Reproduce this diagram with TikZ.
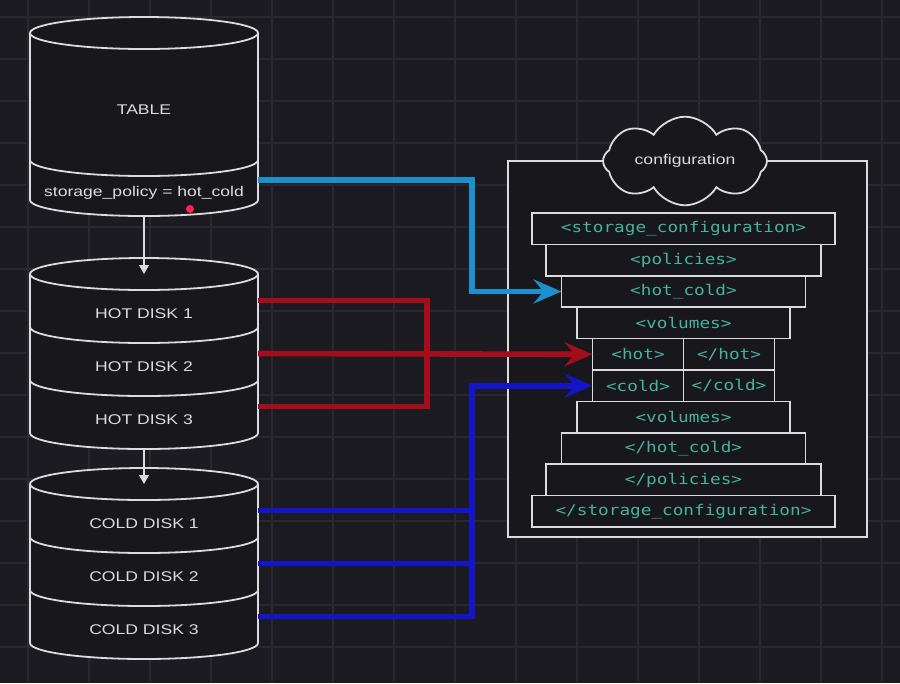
\documentclass[tikz,border=0pt]{standalone}
\usepackage{fontspec}
\setmainfont{Liberation Sans}[FakeStretch=1.25]
\newfontfamily\xmlfont{DejaVu Sans Mono}[FakeStretch=1.2]
\usetikzlibrary{positioning,shapes.symbols,arrows.meta}
\definecolor{fondo}{HTML}{1C1B21}
\definecolor{rejilla}{HTML}{29282F}
\definecolor{relleno}{HTML}{18171C}
\definecolor{linea}{HTML}{DCDCDC}
\definecolor{xmltexto}{HTML}{44B3A1}
\definecolor{cian}{HTML}{1A90CC}
\definecolor{rojo}{HTML}{A30D1C}
\definecolor{azul}{HTML}{1515C8}
\definecolor{puntero}{HTML}{FF2050}
\tikzstyle{Rejilla}=[draw=rejilla, line width=0.3mm]
\tikzstyle{Disco}=[rectangle, inner sep=0pt, outer sep=0pt, minimum width=57mm, minimum height=13.25mm]
\tikzstyle{DiscoTexto}=[text=linea, yshift=-3.2mm, font=\fontsize{10}{12}\selectfont]
\tikzstyle{Borde}=[draw=linea, line width=0.45mm]
\tikzstyle{XmlTag}=[rectangle, draw=linea, fill=relleno, line width=0.4mm, inner sep=0pt, outer sep=0pt, minimum height=7.85mm, text=xmltexto, font=\xmlfont\fontsize{10.5}{12}\selectfont]
\tikzstyle{CajaConfig}=[rectangle, draw=linea, fill=relleno, line width=0.4mm, outer sep=0pt, minimum width=89.75mm, minimum height=94mm]
\tikzstyle{Nube}=[cloud, cloud puffs=8, cloud puff arc=120, aspect=2.3, draw=linea, fill=relleno, line width=0.45mm, minimum width=41mm, minimum height=18mm, inner sep=0pt, text=linea, font=\fontsize{10}{12}\selectfont]
\tikzstyle{LineaRoja}=[draw=rojo, line width=1.4mm]
\tikzstyle{LineaAzul}=[draw=azul, line width=1.4mm]
\tikzstyle{FlechaCian}=[->, draw=cian, line width=1.4mm]
\tikzstyle{FlechaRoja}=[->, LineaRoja]
\tikzstyle{FlechaAzul}=[->, LineaAzul]
\tikzstyle{Bajada}=[-{Triangle[length=2.2mm, width=2.4mm]}, draw=linea, fill=linea, line width=0.35mm]

\begin{document}
\begin{tikzpicture}[x=0.25mm, y=-0.25mm, >={Stealth[length=7mm, width=6mm, inset=2.5mm]}]
			%Fondo
			\fill[fondo] (0,0) rectangle (900,683);
			\useasboundingbox (0,0) rectangle (900,683);
			\foreach \x in {28,89,...,882} \draw[Rejilla] (\x,0) -- (\x,683);
			\foreach \y in {17,59,...,683} \draw[Rejilla] (0,\y) -- (900,\y);

			%Secciones
			\node[Disco, minimum height=31.75mm]	(tbltop)		at (144,96.5)				{};
			\node[Disco, minimum height=10mm]		(tblpolicy)	[below=0cm of tbltop]		{};

			\node[Disco]		(hot1)		at (144,300.5)				{};
			\node[Disco]		(hot2)		[below=0cm of hot1]		{};
			\node[Disco]		(hot3)		[below=0cm of hot2]		{};

			\node[Disco]		(cold1)		at (144,510.5)				{};
			\node[Disco]		(cold2)		[below=0cm of cold1]		{};
			\node[Disco]		(cold3)		[below=0cm of cold2]		{};

			%Cilindros
			\foreach \a/\b in {tbltop/tblpolicy, hot1/hot3, cold1/cold3}{
				\fill[relleno] (\a.north west) -- (\b.south west) arc[start angle=180, end angle=360, x radius=28.5mm, y radius=4mm]
					-- (\a.north east) arc[start angle=0, end angle=180, x radius=28.5mm, y radius=4mm] -- cycle;
				\draw[Borde] (\a.north) ellipse [x radius=28.5mm, y radius=4mm];
				\draw[Borde] (\a.north west) -- (\b.south west) arc[start angle=180, end angle=360, x radius=28.5mm, y radius=4mm] -- (\a.north east);
			}
			\foreach \d in {tbltop, hot1, hot2, cold1, cold2}
				\draw[Borde] (\d.south west) arc[start angle=180, end angle=360, x radius=28.5mm, y radius=4mm];

			%Textos
			\node[DiscoTexto]	(tbltxt)		at (tbltop)		{TABLE};
			\node[DiscoTexto]	(policytxt)	at (tblpolicy)	{storage\_policy = hot\_cold};
			\node[DiscoTexto]	(hot1txt)	at (hot1)		{HOT DISK 1};
			\node[DiscoTexto]	(hot2txt)	at (hot2)		{HOT DISK 2};
			\node[DiscoTexto]	(hot3txt)	at (hot3)		{HOT DISK 3};
			\node[DiscoTexto]	(cold1txt)	at (cold1)		{COLD DISK 1};
			\node[DiscoTexto]	(cold2txt)	at (cold2)		{COLD DISK 2};
			\node[DiscoTexto]	(cold3txt)	at (cold3)		{COLD DISK 3};
			\fill[puntero] (190,209) circle (1mm);

			%Bajadas
			\draw[Bajada] ([yshift=-4mm]tblpolicy.south) -- (hot1.north);
			\draw[Bajada] ([yshift=-4mm]hot3.south) -- (cold1.north);

			%Config
			\node[CajaConfig]	(cfg)		at (687.5,349)	{};
			\node[XmlTag, minimum width=75.75mm]	(storopen)	at (683.5,228.7)				{<storage\_configuration>};
			\node[XmlTag, minimum width=68.75mm]	(polopen)	[below=0cm of storopen]		{<policies>};
			\node[XmlTag, minimum width=61mm]		(hcopen)		[below=0cm of polopen]		{<hot\_cold>};
			\node[XmlTag, minimum width=53.25mm]	(volopen)	[below=0cm of hcopen]		{<volumes>};
			\node[XmlTag, minimum width=22.75mm, anchor=north east]	(hotopen)	at (volopen.south)	{<hot>};
			\node[XmlTag, minimum width=22.75mm]	(hotclose)	[right=0cm of hotopen]		{</hot>};
			\node[XmlTag, minimum width=22.75mm]	(coldopen)	[below=0cm of hotopen]		{<cold>};
			\node[XmlTag, minimum width=22.75mm]	(coldclose)	[below=0cm of hotclose]		{</cold>};
			\node[XmlTag, minimum width=53.25mm, anchor=north]	(volclose)	at (coldopen.south east)	{<volumes>};
			\node[XmlTag, minimum width=61mm]		(hcclose)	[below=0cm of volclose]		{</hot\_cold>};
			\node[XmlTag, minimum width=68.75mm]	(polclose)	[below=0cm of hcclose]		{</policies>};
			\node[XmlTag, minimum width=75.75mm]	(storclose)	[below=0cm of polclose]		{</storage\_configuration>};

			%Lineas
			\draw[FlechaCian] (tblpolicy.east) -| ([xshift=-22.4mm]hcopen.west) -- (hcopen.west);

			\draw[LineaRoja] (hot1.east) -- ++(42.25mm,0) |- (hot3.east);
			\draw[FlechaRoja] (hot2.east) -- (hotopen.west);

			\draw[LineaAzul] (cold1.east) -- ++(53.5mm,0);
			\draw[LineaAzul] (cold2.east) -- ++(53.5mm,0);
			\draw[FlechaAzul] (cold3.east) -| ([xshift=-30.1mm]coldopen.west) -- (coldopen.west);

			%Nube
			\node[Nube]	(nube)	at (685,161)	{configuration};

		\end{tikzpicture}
\end{document}
